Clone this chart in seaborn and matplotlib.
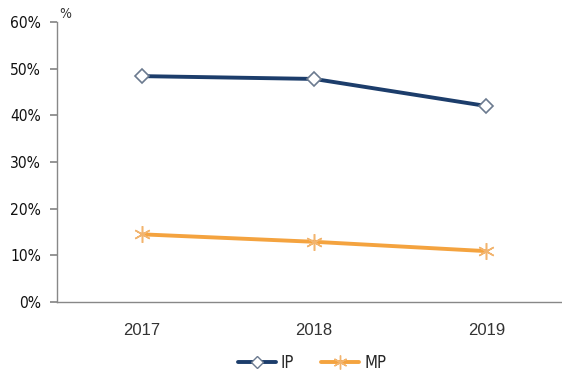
import matplotlib
matplotlib.use("Agg")
import matplotlib.pyplot as plt
import seaborn as sns
import pandas as pd
from matplotlib.lines import Line2D

years = ["2017", "2018", "2019"]
ip_values = [0.484, 0.478, 0.420]
mp_values = [0.145, 0.129, 0.109]
series_names = ["IP", "MP"]
y_ticks = [0, 0.1, 0.2, 0.3, 0.4, 0.5, 0.6]

df = pd.DataFrame({
    "year": years * 2,
    "pos": list(range(len(years))) * 2,
    "value": ip_values + mp_values,
    "series": [series_names[0]] * 3 + [series_names[1]] * 3,
})

sns.set_theme(style="white")
plt.rcParams["font.family"] = ["Liberation Sans", "DejaVu Sans"]

fig = plt.figure(figsize=(5.62, 3.73), dpi=100)
ax = fig.add_axes([57 / 562, (373 - 302) / 373, 1 - 57 / 562, (302 - 22) / 373])

navy = "#1c3d6b"
orange = "#f4a33f"
sns.lineplot(data=df, x="pos", y="value", hue="series", palette=[navy, orange],
             linewidth=2.8, ax=ax, legend=False, sort=False)

ip = df[df.series == "IP"]
mp = df[df.series == "MP"]
ax.plot(ip.pos, ip.value, linestyle="none", marker="D", markersize=7.5,
        markerfacecolor="white", markeredgecolor="#6b7a8f", markeredgewidth=1.2, zorder=5)
ax.plot(mp.pos, mp.value, linestyle="none", marker=(6, 2, 0), markersize=12,
        markeredgecolor="#f2b46e", markeredgewidth=1.1, zorder=5)

ax.set_xlim(-0.494, 2.44)
ax.set_ylim(0, 0.6)
ax.set_xticks(range(len(years)))
ax.set_xticklabels(years, fontsize=12, color="#333333")
ax.set_yticks(y_ticks)
ax.set_yticklabels([f"{int(round(t * 100))}%" for t in y_ticks], fontsize=11.2,
                   color="#111111", family="DejaVu Sans", fontstretch="condensed",
                   fontweight="medium")
ax.set_xlabel("")
ax.set_ylabel("")
for s in ["top", "right"]:
    ax.spines[s].set_visible(False)
for s in ["left", "bottom"]:
    ax.spines[s].set_color("#888888")
    ax.spines[s].set_linewidth(1.0)
ax.tick_params(axis="y", which="both", left=True, length=5, color="#888888", pad=6.5)
ax.tick_params(axis="x", bottom=False, pad=9)

fig.text(59 / 562, 1 - 14 / 373, "%", fontsize=10, color="#333333", ha="left", va="center",
         family="DejaVu Sans", fontstretch="condensed")

handles = [
    Line2D([0], [0], color=navy, linewidth=2.8, marker="D", markersize=6.5,
           markerfacecolor="white", markeredgecolor="#6b7a8f"),
    Line2D([0], [0], color=orange, linewidth=2.8, marker=(6, 2, 0), markersize=10,
           markeredgecolor="#f2b46e"),
]
fig.legend(handles, series_names, loc="center", bbox_to_anchor=(312 / 562, 1 - 363 / 373),
           ncol=2, frameon=False, handlelength=2.3, columnspacing=1.6,
           handletextpad=0.3,
           prop={"family": "DejaVu Sans", "stretch": "condensed", "size": 12})

fig.savefig("out.png", dpi=100)
